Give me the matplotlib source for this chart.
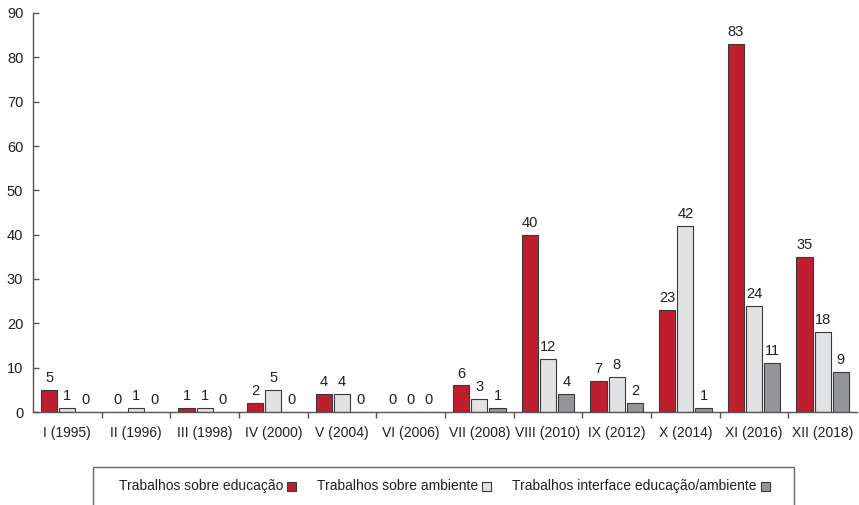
import matplotlib
matplotlib.use('Agg')
import matplotlib.pyplot as plt
from matplotlib.patches import Rectangle
import numpy as np

# data
editions = ['I (1995)', 'II (1996)', 'III (1998)', 'IV (2000)', 'V (2004)', 'VI (2006)',
            'VII (2008)', 'VIII (2010)', 'IX (2012)', 'X (2014)', 'XI (2016)', 'XII (2018)']
educacao = [5, 0, 1, 2, 4, 0, 6, 40, 7, 23, 83, 35]
ambiente = [1, 1, 1, 5, 4, 0, 3, 12, 8, 42, 24, 18]
interface = [0, 0, 0, 0, 0, 0, 1, 4, 2, 1, 11, 9]
series_labels = ['Trabalhos sobre educação', 'Trabalhos sobre ambiente',
                 'Trabalhos interface educação/ambiente']
colors = ['#BE1E2D', '#E1E2E4', '#939598']

plt.rcParams['font.family'] = ['Liberation Sans', 'DejaVu Sans']
plt.rcParams['font.size'] = 10
txt_color = '#231F20'
axis_color = '#555555'

W, H = 859, 505
fig = plt.figure(figsize=(W / 100, H / 100), dpi=100)
ax = fig.add_axes([33 / W, (H - 412) / H, (857 - 33) / W, (412 - 13) / H])

x = np.arange(len(editions))
offset = 0.265
width = 0.235
for i, (vals, col) in enumerate(zip([educacao, ambiente, interface], colors)):
    bars = ax.bar(x + (i - 1) * offset, vals, width, color=col,
                  edgecolor='#3a3a3a', linewidth=0.8, zorder=2)
    ax.bar_label(bars, padding=3.5, fontsize=10.5, color=txt_color)

ax.set_xlim(-0.5, len(editions) - 0.5)
ax.set_ylim(0, 90)
ax.set_yticks(range(0, 91, 10))

ax.set_xticks(x)
ax.set_xticklabels(editions)
ax.set_xticks(np.arange(0.5, len(editions) - 0.5, 1), minor=True)
ax.tick_params(axis='x', which='major', length=0, pad=10, colors=txt_color)
ax.tick_params(axis='x', which='minor', length=4, direction='out', color=axis_color, width=1)
ax.tick_params(axis='y', direction='in', length=4.5, pad=7, color=axis_color, width=1,
               labelcolor=txt_color, labelsize=10.5)

for s in ['top', 'right']:
    ax.spines[s].set_visible(False)
for s in ['left', 'bottom']:
    ax.spines[s].set_color(axis_color)
    ax.spines[s].set_linewidth(1)

# legend box, drawn by hand: label text followed by a small square
fig.patches.append(Rectangle((93 / W, -0.05), (794 - 93) / W, (H - 467) / H + 0.05,
                             transform=fig.transFigure, fill=False,
                             edgecolor='#666666', linewidth=1))
text_x = [119, 317, 512]
text_y = (H - 486) / H
fig.canvas.draw()
renderer = fig.canvas.get_renderer()
sq = 9
for tx, lab, col in zip(text_x, series_labels, colors):
    t = fig.text(tx / W, text_y, lab, ha='left', va='center', fontsize=10, color=txt_color)
    bb = t.get_window_extent(renderer)
    sx = bb.x1 + 4
    fig.patches.append(Rectangle((sx / W, (H - 486 - sq / 2) / H), sq / W, sq / H,
                                 transform=fig.transFigure, facecolor=col,
                                 edgecolor='#3a3a3a', linewidth=0.8))

fig.savefig('out.png', dpi=100)
